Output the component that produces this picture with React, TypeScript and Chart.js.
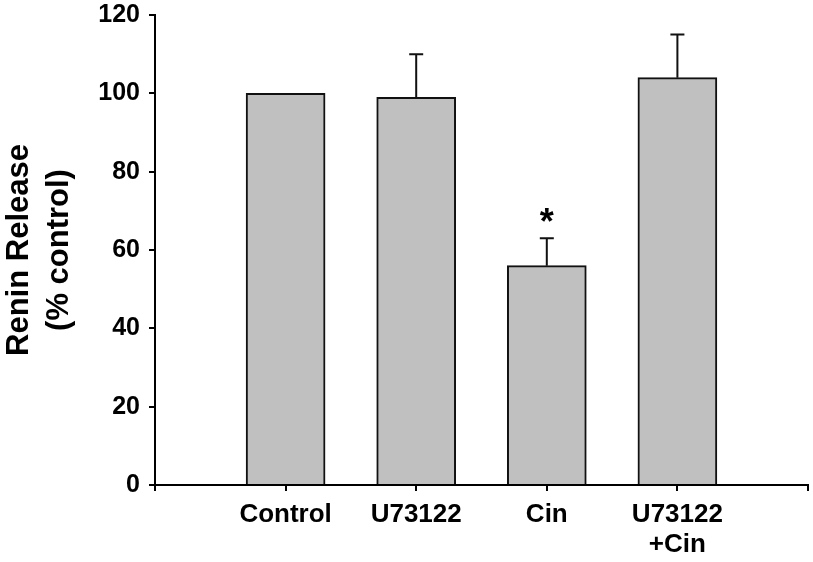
import React, { useEffect, useRef } from "react";
import { Chart, registerables } from "chart.js";

Chart.register(...registerables);

const categories: (string | string[])[] = ["Control", "U73122", "Cin", ["U73122", "+Cin"]];
const values: number[] = [100, 99, 56, 104];
const errors: number[] = [0, 11, 7, 11];
const marks: string[] = ["", "", "*", ""];
const yTicks: number[] = [0, 20, 40, 60, 80, 100, 120];
const yTitle: string[] = ["Renin Release", "(% control)"];

const FONT = "'Liberation Sans', Arial, sans-serif";

const errorBarPlugin = {
  id: "errorBars",
  afterDatasetsDraw(chart: any) {
    const ctx = chart.ctx;
    const xs = chart.scales.x;
    const ys = chart.scales.y;
    ctx.save();
    ctx.strokeStyle = "#111";
    ctx.fillStyle = "#000";
    ctx.lineWidth = 2;
    values.forEach((v, i) => {
      const px = xs.getPixelForValue(i + 1);
      const yBase = ys.getPixelForValue(v);
      const yTop = ys.getPixelForValue(v + (errors[i] || 0));
      if (errors[i]) {
        ctx.beginPath();
        ctx.moveTo(px, yBase);
        ctx.lineTo(px, yTop);
        ctx.moveTo(px - 7, yTop);
        ctx.lineTo(px + 7, yTop);
        ctx.stroke();
      }
      if (marks[i]) {
        ctx.font = `bold 36px ${FONT}`;
        ctx.textAlign = "center";
        ctx.textBaseline = "alphabetic";
        ctx.fillText(marks[i], px, yTop - 4);
      }
    });
    ctx.restore();
  },
};

export default function App() {
  const ref = useRef<HTMLCanvasElement>(null);
  useEffect(() => {
    if (!ref.current) return;
    const labels = ["", ...categories, ""];
    const data = [null, ...values, null];
    const chart = new Chart(ref.current, {
      type: "bar",
      data: {
        labels,
        datasets: [
          {
            data,
            backgroundColor: "#c0c0c0",
            borderColor: "#111",
            borderWidth: 2,
            barThickness: 79,
          } as any,
        ],
      },
      options: {
        animation: false,
        responsive: false,
        maintainAspectRatio: false,
        layout: { padding: { top: 15, right: 5, left: 0, bottom: 0 } },
        plugins: { legend: { display: false }, tooltip: { enabled: false } },
        scales: {
          x: {
            type: "category",
            offset: false,
            border: { display: true, color: "#000", width: 2 },
            grid: {
              offset: false,
              drawOnChartArea: false,
              drawTicks: true,
              tickLength: 6,
              color: "#000",
              lineWidth: 2,
            },
            ticks: {
              color: "#000",
              font: { family: FONT, size: 26, weight: "bold", lineHeight: 1.18 },
              padding: 8,
              maxRotation: 0,
              autoSkip: false,
            },
            afterFit: (s: any) => {
              s.height = 77;
              s.paddingLeft = 0;
              s.paddingRight = 0;
            },
          },
          y: {
            min: 0,
            max: 120,
            border: { display: true, color: "#000", width: 2 },
            grid: {
              drawOnChartArea: false,
              drawTicks: true,
              tickLength: 6,
              color: "#000",
              lineWidth: 2,
            },
            afterBuildTicks: (s: any) => {
              s.ticks = yTicks.map((v) => ({ value: v }));
            },
            ticks: {
              color: "#000",
              font: { family: FONT, size: 25, weight: "bold" },
              padding: 9,
            },
            title: {
              display: true,
              text: yTitle,
              color: "#000",
              font: { family: FONT, size: 31, weight: "bold", lineHeight: 1.27 },
              padding: { top: 0, bottom: 0 },
            },
            afterFit: (s: any) => {
              s.width = 155;
              s.paddingTop = 0;
              s.paddingBottom = 0;
            },
          },
        },
      },
      plugins: [errorBarPlugin],
    });
    return () => chart.destroy();
  }, []);
  return (
    <div style={{ position: "absolute", left: 0, top: 0, width: 813, height: 562 }}>
      <canvas ref={ref} width={813} height={562} style={{ width: 813, height: 562 }} />
    </div>
  );
}
